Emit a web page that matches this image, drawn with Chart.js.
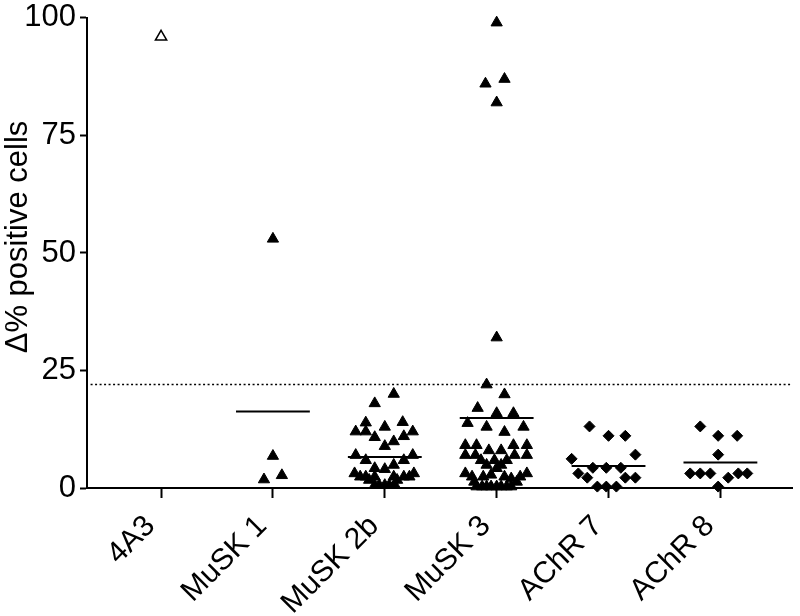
<!DOCTYPE html>
<html>
<head>
<meta charset="utf-8">
<script src="https://cdn.jsdelivr.net/npm/chart.js@4.4.1/dist/chart.umd.min.js"></script>
<style>
  body { margin: 0; background: #fff; }
</style>
</head>
<body>
<canvas id="dotplot" width="800" height="616"></canvas>
<script>
var categories = ['4A3', 'MuSK 1', 'MuSK 2b', 'MuSK 3', 'AChR 7', 'AChR 8'];
var yTicks = [0, 25, 50, 75, 100];
var yTitle = 'Δ% positive cells';
var cutoff = 22;

// one value per dot, spread = sideways offset of the dot in category widths
var ctrl4A3 = [96];
var ctrl4A3Spread = [0];

var musk1 = [53, 6.8, 1.8, 2.7];
var musk1Spread = [0, 0, -0.08, 0.08];

var musk2b = [20, 18, 13.9, 14, 13, 12, 12, 12, 10.8, 11, 9.9, 8.9, 7, 7, 5.9, 5.9, 4.9, 4.2, 4, 3.1, 3.1,
  2.4, 2.4, 2.4, 2.4, 2.4, 2.4, 1.7, 1.7, 0.6, 0.6, 0.6, 0.6, 0.6];
var musk2bSpread = [0.08, -0.09, -0.17, 0.16, 0, -0.26, -0.17, 0.25, -0.09, 0.17, 0.08, 0, -0.26, 0.25, -0.17, 0.17, 0.08, -0.09, 0, -0.27, 0.26,
  -0.22, -0.17, -0.09, 0.08, 0.17, 0.22, -0.14, 0.11, -0.09, -0.05, 0, 0.04, 0.09];

var musk3 = [99, 86, 87, 82, 32, 22, 19.9, 17, 15.9, 15.9, 13.8, 13, 13, 11.9, 9.1, 9.1, 8, 8, 9.1, 9.1,
  7, 7, 7, 7, 5.9, 5.9, 5.9, 4.9, 4.2, 4.9, 3.1, 3.1, 2.4, 2.4, 2.4, 2.8, 2.4, 2, 1.3, 1.3,
  0.3, 0.3, 0.3, 0.3, 0.3, 0.3, 0.3, 0.3];
var musk3Spread = [0, -0.1, 0.07, 0, 0, -0.09, 0.07, -0.17, 0, 0.15, -0.26, -0.09, 0.24, 0.07, -0.28, -0.18, -0.07, 0.04, 0.15, 0.27,
  -0.28, -0.19, 0.16, 0.27, -0.14, -0.02, 0.09, -0.09, 0, 0.04, -0.28, 0.27, -0.22, 0.21, -0.12, -0.05, 0.07, 0.13, -0.2, 0.18,
  -0.18, -0.13, -0.09, -0.05, 0, 0.04, 0.09, 0.13];

var achr7 = [13.1, 11.1, 11.1, 7.1, 6.2, 4.3, 4.3, 4.3, 3.1, 2.2, 2.2, 2.2, 0.3, 0.3, 0.3];
var achr7Spread = [-0.17, 0, 0.15, 0.24, -0.33, -0.14, -0.02, 0.11, -0.27, -0.19, 0.15, 0.24, -0.1, -0.02, 0.07];

var achr8 = [13.1, 11.1, 11.1, 7.1, 3.1, 3.1, 3.1, 2.2, 3.1, 3.1, 0.3];
var achr8Spread = [-0.18, -0.02, 0.15, -0.02, -0.27, -0.18, -0.09, 0.07, 0.16, 0.24, -0.02];

// group means as drawn (4A3 has none)
var means = [null, 16.3, 6.6, 14.9, 4.7, 5.4];

var fontFamily = '"Liberation Sans", Arial, Helvetica, sans-serif';

function dots(index, values, spread, style, fill){
  var pts = [];
  for (var i = 0; i < values.length; i++) {
    pts.push({x: index + spread[i], y: values[i]});
  }
  return {
    type: 'scatter',
    data: pts,
    pointStyle: style,
    pointRadius: style == 'triangle' ? 6.5 : 5.5,
    pointBackgroundColor: fill,
    pointBorderColor: '#000',
    pointBorderWidth: fill == '#fff' ? 1.5 : 1,
    clip: false
  };
}

var datasets = [];
means.forEach(function(m, i){
  if (m == null) return;
  datasets.push({
    type: 'line',
    data: [{x: i - 0.33, y: m}, {x: i + 0.33, y: m}],
    borderColor: '#000',
    borderWidth: 2,
    pointRadius: 0,
    clip: false
  });
});
datasets.push({
  type: 'line',
  data: [{x: -0.63, y: cutoff}, {x: 5.64, y: cutoff}],
  borderColor: '#000',
  borderWidth: 1.5,
  borderDash: [2, 2.5],
  pointRadius: 0,
  clip: false
});
datasets.push(dots(0, ctrl4A3, ctrl4A3Spread, 'triangle', '#fff'));
datasets.push(dots(1, musk1, musk1Spread, 'triangle', '#000'));
datasets.push(dots(2, musk2b, musk2bSpread, 'triangle', '#000'));
datasets.push(dots(3, musk3, musk3Spread, 'triangle', '#000'));
datasets.push(dots(4, achr7, achr7Spread, 'rectRot', '#000'));
datasets.push(dots(5, achr8, achr8Spread, 'rectRot', '#000'));

// y title sits a bit above the middle of the axis in the original
var yTitlePlugin = {
  id: 'yTitle',
  afterDraw: function(chart){
    var ctx = chart.ctx;
    ctx.save();
    ctx.translate(27, 237);
    ctx.rotate(-Math.PI / 2);
    ctx.font = '31px ' + fontFamily;
    ctx.fillStyle = '#000';
    ctx.textAlign = 'center';
    ctx.textBaseline = 'alphabetic';
    ctx.fillText(yTitle, 0, 0);
    ctx.restore();
  }
};

new Chart(document.getElementById('dotplot'), {
  type: 'scatter',
  data: { datasets: datasets },
  plugins: [yTitlePlugin],
  options: {
    responsive: false,
    animation: false,
    layout: { padding: { top: 14, right: 2, left: 0, bottom: 0 } },
    plugins: { legend: { display: false }, tooltip: { enabled: false } },
    scales: {
      x: {
        type: 'linear',
        min: -0.662,
        max: 5.64,
        afterBuildTicks: function(scale){
          scale.ticks = categories.map(function(c, i){ return {value: i}; });
        },
        afterFit: function(scale){ scale.height = 128; },
        grid: { drawOnChartArea: false, drawTicks: true, tickLength: 10, tickColor: '#000', tickWidth: 2 },
        border: { display: true, color: '#000', width: 2 },
        ticks: {
          autoSkip: false,
          minRotation: 45,
          maxRotation: 45,
          padding: 0,
          color: '#000',
          font: { family: fontFamily, size: 30 },
          // trailing en space pushes the label down along its slant
          callback: function(v){ return categories[v] + '\u2002'; }
        }
      },
      y: {
        min: 0,
        max: 100,
        afterBuildTicks: function(scale){
          scale.ticks = yTicks.map(function(v){ return {value: v}; });
        },
        afterFit: function(scale){ scale.width = 87; },
        grid: { drawOnChartArea: false, drawTicks: true, tickLength: 7, tickColor: '#000', tickWidth: 2 },
        border: { display: true, color: '#000', width: 2 },
        ticks: {
          padding: 4,
          color: '#000',
          font: { family: fontFamily, size: 31, lineHeight: 0.9 }
        }
      }
    }
  }
});
</script>
</body>
</html>
